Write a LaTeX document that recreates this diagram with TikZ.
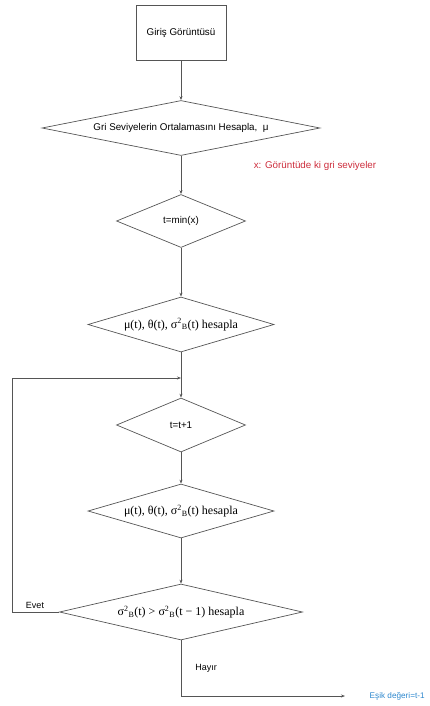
\documentclass[tikz,border=0pt]{standalone}
\usepackage{fontspec}
\setmainfont{Liberation Sans}
\newfontfamily\formfont{Liberation Serif}
\usetikzlibrary{shapes.geometric,arrows.meta}
\definecolor{linegray}{RGB}{85,85,85}
\definecolor{notered}{RGB}{205,45,60}
\definecolor{resblue}{RGB}{45,135,205}
\newcommand{\sigB}{σ\textsuperscript{2}\textsubscript{B}}
\begin{document}
\begin{tikzpicture}[x=1pt,y=-1pt,
box/.style = {rectangle, draw=linegray, line width=0.7pt, minimum width=90pt, minimum height=55pt, font=\fontsize{9.8}{11}\selectfont},
dia/.style = {diamond, draw=linegray, line width=0.7pt, inner sep=0pt, shape aspect=#1},
arr/.style = {draw=linegray, line width=0.7pt, -{Stealth[length=4pt,width=3pt]}},
line/.style = {draw=linegray, line width=0.7pt},
txt/.style = {font=\fontsize{9.8}{11}\selectfont},
lbl/.style = {font=\fontsize{9}{10}\selectfont},
form/.style = {font=\formfont\fontsize{12}{14}\selectfont}]
\useasboundingbox (0,0) rectangle (429,706);
    \node[box] (input) at (181,32.5) {Giriş Görüntüsü};
    \node[dia=5, minimum width=278pt, minimum height=55pt, txt] (mean) at (181,128) {Gri Seviyelerin Ortalamasını Hesapla,\ \ μ};
    \node[txt, text=notered] (note) at (315,166) {x: Görüntüde ki gri seviyeler};
    \node[dia=2.4, minimum width=129pt, minimum height=53pt, txt] (tmin) at (181,221) {t=min(x)};
    \node[dia=3.4, minimum width=186pt, minimum height=55pt, form] (calc1) at (181,324.5) {μ(t), θ(t), \sigB(t) hesapla};
    \coordinate (join) at (181,378);
    \node[dia=2.4, minimum width=129pt, minimum height=54pt, txt] (inc) at (181,425) {t=t+1};
    \node[dia=3.4, minimum width=186pt, minimum height=54pt, form] (calc2) at (181,511) {μ(t), θ(t), \sigB(t) hesapla};
    \node[dia=4.3, minimum width=243pt, minimum height=56pt, form] (test) at (181,612) {\sigB(t) > \sigB(t − 1) hesapla};
    \coordinate (back) at (12,612);
    \node[anchor=west, text=resblue, inner sep=0.5pt, font=\fontsize{8.2}{10}\selectfont] (res) at (369,696) {Eşik değeri=t-1};
    \coordinate (resin) at (345,696);

    \draw[arr] (input) -- (mean);
    \draw[arr] (mean) -- (tmin);
    \draw[arr] (tmin) -- (calc1);
    \draw[line] (calc1) -- (join);
    \draw[arr] (join) -- (inc);
    \draw[arr] (inc) -- (calc2);
    \draw[arr] (calc2) -- (test);
    \draw[arr] (test.west) -- (back) |- (join);
    \draw[arr] (test.south) |- (resin);
    \draw (35,605) node[lbl]{Evet};
    \draw (206,668) node[lbl]{Hayır};
\end{tikzpicture}
\end{document}
